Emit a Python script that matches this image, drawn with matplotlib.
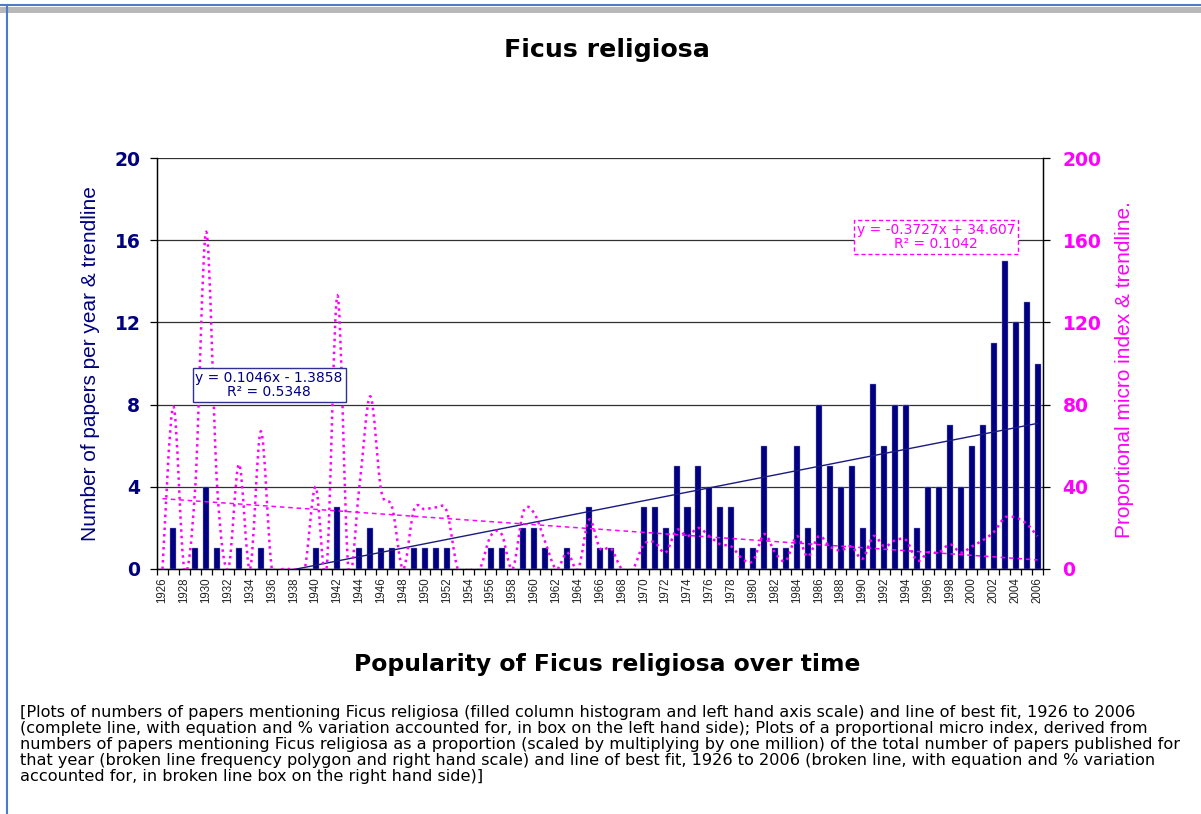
import matplotlib
matplotlib.use("Agg")
import matplotlib.pyplot as plt
from matplotlib.path import Path
from matplotlib.patches import PathPatch, Rectangle
from matplotlib.lines import Line2D
import numpy as np

plt.rcParams['font.family'] = ['Liberation Sans', 'DejaVu Sans']
WIDE = ['DejaVu Sans']

# ---------------- data ----------------
years = list(range(1926, 2007))
papers = [0, 2, 0, 1, 4, 1, 0, 1, 0, 1,
          0, 0, 0, 0, 1, 0, 3, 0, 1, 2,
          1, 1, 0, 1, 1, 1, 1, 0, 0, 0,
          1, 1, 0, 2, 2, 1, 0, 1, 0, 3,
          1, 1, 0, 0, 3, 3, 2, 5, 3, 5,
          4, 3, 3, 1, 1, 6, 1, 1, 6, 2,
          8, 5, 4, 5, 2, 9, 6, 8, 8, 2,
          4, 4, 7, 4, 6, 7, 11, 15, 12, 13,
          10]
micro_index = [0, 79, 0, 40, 164, 40, 0, 51, 0, 67,
               0, 0, 0, 0, 40, 0, 133, 0, 40, 84,
               38, 30, 0, 29, 29, 30, 28, 0, 0, 0,
               16, 17, 0, 28, 27, 13, 0, 8, 0, 24,
               10, 10, 0, 0, 12, 13, 8, 19, 16, 20,
               16, 12, 11, 5, 4, 17, 8, 4, 16, 6,
               16, 11, 9, 11, 5, 16, 11, 14, 14, 4,
               8, 8, 12, 8, 11, 14, 18, 25, 25, 22,
               16]
papers_slope, papers_intercept, papers_r2 = 0.1046, -1.3858, 0.5348
index_slope, index_intercept, index_r2 = -0.3727, 34.607, 0.1042
left_ticks = [0, 4, 8, 12, 16, 20]
right_ticks = [0, 40, 80, 120, 160, 200]

title = "Ficus religiosa"
xlabel = "Popularity of Ficus religiosa over time"
ylabel_left = "Number of papers per year & trendline"
ylabel_right = "Proportional micro index & trendline."
caption = ("[Plots of numbers of papers mentioning Ficus religiosa (filled column histogram and left hand axis scale) and line of best fit, 1926 to 2006\n"
           "(complete line, with equation and % variation accounted for, in box on the left hand side); Plots of a proportional micro index, derived from\n"
           "numbers of papers mentioning Ficus religiosa as a proportion (scaled by multiplying by one million) of the total number of papers published for\n"
           "that year (broken line frequency polygon and right hand scale) and line of best fit, 1926 to 2006 (broken line, with equation and % variation\n"
           "accounted for, in broken line box on the right hand side)]")

NAVY = '#000080'
MAG = '#FF00FF'
W, H = 1201, 814

fig = plt.figure(figsize=(W / 100, H / 100), dpi=100)
fig.patch.set_facecolor('white')

def fx(px):
    return px / W

def fy(py):
    return 1 - py / H

ax = fig.add_axes([fx(157), fy(569), fx(1043) - fx(157), fy(158) - fy(569)])
ax2 = ax.twinx()

x = np.arange(len(years))
ax.bar(x, papers, width=0.55, color=NAVY, edgecolor='#9090d0', linewidth=0.3, zorder=3)

ax.set_xlim(-0.5, len(years) - 0.5)
ax.set_ylim(0, 20)
ax.set_yticks(left_ticks)
ax.set_yticklabels([str(v) for v in left_ticks], color=NAVY, fontsize=13.5,
                   fontweight='bold', family=WIDE)
ax.yaxis.grid(True, color='#303030', linewidth=0.9)
ax.set_axisbelow(True)

ax.set_xticks(x[::2])
ax.set_xticklabels([str(y) for y in years[::2]], rotation=90, fontsize=8.3, color='#222222')
ax.set_xticks(np.arange(-0.5, len(years), 1.0), minor=True)
ax.tick_params(axis='x', which='major', length=0, pad=6)
ax.tick_params(axis='x', which='minor', length=4.5, width=0.9, color='black')
ax.tick_params(axis='y', length=5, width=0.9, pad=7)

for s in ['top']:
    ax.spines[s].set_visible(False)
    ax2.spines[s].set_visible(False)
for s in ['left', 'right', 'bottom']:
    ax.spines[s].set_linewidth(0.9)
    ax2.spines[s].set_linewidth(0.9)

# blue trendline
xt = x + 1
ax.plot(x, papers_slope * xt + papers_intercept, color='#1a1a80', linewidth=1.0, zorder=4)

# right axis
ax2.set_ylim(0, 200)
ax2.set_yticks(right_ticks)
ax2.set_yticklabels([str(v) for v in right_ticks], color=MAG, fontsize=13.5,
                    fontweight='bold', family=WIDE)
ax2.tick_params(axis='y', length=5, width=0.9, pad=9)

# smoothed micro index line (Bezier through the data points)
xs = list(x.astype(float))
ys = [float(v) for v in micro_index]
n = len(xs)
verts = [(xs[0], ys[0])]
codes = [Path.MOVETO]
for i in range(n - 1):
    a = i - 1 if i > 0 else i
    d = i + 2 if i + 2 < n else i + 1
    c1 = (xs[i] + (xs[i + 1] - xs[a]) / 6.0, ys[i] + (ys[i + 1] - ys[a]) / 6.0)
    c2 = (xs[i + 1] - (xs[d] - xs[i]) / 6.0, ys[i + 1] - (ys[d] - ys[i]) / 6.0)
    verts += [c1, c2, (xs[i + 1], ys[i + 1])]
    codes += [Path.CURVE4] * 3
patch = PathPatch(Path(verts, codes), fill=False, edgecolor=MAG, linewidth=1.8,
                  linestyle=(0, (1, 1.6)), zorder=5)
ax2.add_patch(patch)

# pink trendline
ax2.plot(x, index_slope * xt + index_intercept, color=MAG, linewidth=1.1,
         linestyle=(0, (3, 2.5)), zorder=5)

# equation boxes
ax2.text(0.1265, 0.4475, "y = %.4fx - %.4f\nR² = %.4f" % (papers_slope, -papers_intercept, papers_r2),
         transform=ax.transAxes, ha='center', va='center', multialignment='center',
         fontsize=10, color=NAVY, linespacing=1.0, zorder=20, family=WIDE,
         bbox=dict(boxstyle='square,pad=0.2', facecolor='white', edgecolor='#303090', linewidth=1.0))
ax2.text(0.8792, 0.8078, "y = %.4fx + %.3f\nR² = %.4f" % (index_slope, index_intercept, index_r2),
         transform=ax.transAxes, ha='center', va='center', multialignment='center',
         fontsize=10, color=MAG, linespacing=1.0, zorder=20, family=WIDE,
         bbox=dict(boxstyle='square,pad=0.2', facecolor='white', edgecolor=MAG, linewidth=1.0,
                   linestyle=(0, (3, 2))))

# texts
fig.text(fx(607), fy(50), title, ha='center', va='center', fontsize=18.2,
         fontweight='bold', color='black', family=WIDE)
fig.text(fx(607), fy(664), xlabel, ha='center', va='center', fontsize=16.9,
         fontweight='bold', color='black', family=WIDE)
fig.text(fx(91), fy(364), ylabel_left, ha='center', va='center', rotation=90, fontsize=15, color=NAVY)
fig.text(fx(1125), fy(370), ylabel_right, ha='center', va='center', rotation=90, fontsize=15, color=MAG)
fig.text(fx(20), fy(705), caption, ha='left', va='top', fontsize=11.6, color='black',
         linespacing=1.09, family=WIDE)

# window frame
fig.add_artist(Rectangle((0, fy(13)), 1, fy(7) - fy(13), transform=fig.transFigure,
                         facecolor='#b8b8b8', edgecolor='none'))
fig.add_artist(Line2D([0, 1], [fy(4.5), fy(4.5)], transform=fig.transFigure, color='#4a7cc9', linewidth=1.5))
fig.add_artist(Line2D([fx(6.5), fx(6.5)], [0, fy(4.5)], transform=fig.transFigure, color='#4a7cc9', linewidth=1.5))

fig.savefig('out.png', dpi=100, facecolor='white')
